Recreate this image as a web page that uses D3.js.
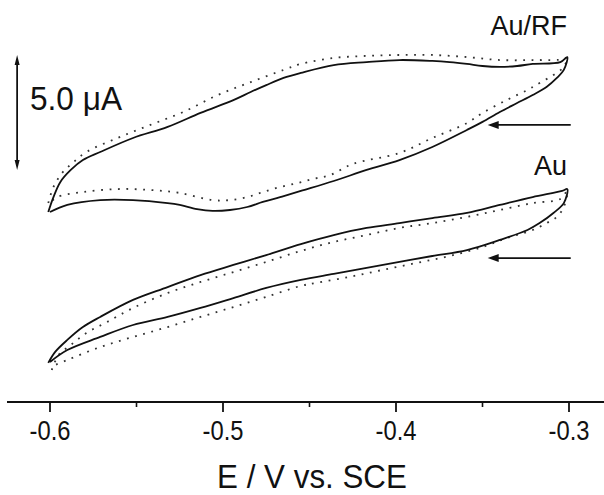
<!DOCTYPE html>
<html>
<head>
<meta charset="utf-8">
<script src="https://cdn.jsdelivr.net/npm/d3@7"></script>
<style>
  body { margin: 0; background: #fff; }
  svg { display: block; }
  text { font-family: "Liberation Sans", Arial, sans-serif; fill: #111; }
</style>
</head>
<body>
<svg id="cv"></svg>
<script>
// potential (V vs SCE) and current (uA) pairs
// each loop: left tip -> upper branch -> right tip -> lower branch -> left tip
var auRfSolid = [
  [-0.601, 0.78], [-0.598, 1.43], [-0.594, 2.09], [-0.588, 2.61], [-0.581, 3.04],
  [-0.571, 3.39], [-0.552, 4.00], [-0.532, 4.48], [-0.513, 5.09], [-0.494, 5.65],
  [-0.484, 6.00], [-0.475, 6.30], [-0.465, 6.61], [-0.455, 6.83], [-0.436, 7.17],
  [-0.417, 7.30], [-0.398, 7.39], [-0.379, 7.35], [-0.369, 7.30], [-0.359, 7.22],
  [-0.350, 7.13], [-0.340, 7.09], [-0.330, 7.13], [-0.321, 7.22], [-0.305, 7.30],
  [-0.301, 7.52],
  [-0.303, 6.96], [-0.307, 6.61], [-0.313, 6.22], [-0.321, 5.87], [-0.330, 5.52],
  [-0.340, 5.13], [-0.350, 4.70], [-0.359, 4.35], [-0.379, 3.61], [-0.398, 3.04],
  [-0.417, 2.61], [-0.436, 2.13], [-0.455, 1.70], [-0.467, 1.43], [-0.477, 1.22],
  [-0.486, 1.00], [-0.496, 0.87], [-0.506, 0.83], [-0.515, 0.91], [-0.525, 1.09],
  [-0.532, 1.17], [-0.552, 1.30], [-0.571, 1.30], [-0.590, 1.09], [-0.600, 0.78]
];
var auRfDotted = [
  [-0.601, 1.17], [-0.598, 1.87], [-0.593, 2.48], [-0.587, 2.91], [-0.579, 3.39],
  [-0.561, 4.00], [-0.542, 4.57], [-0.523, 5.13], [-0.503, 5.87], [-0.484, 6.43],
  [-0.465, 6.96], [-0.455, 7.22], [-0.436, 7.48], [-0.417, 7.57], [-0.398, 7.61],
  [-0.379, 7.61], [-0.359, 7.52], [-0.340, 7.39], [-0.321, 7.39], [-0.303, 7.43],
  [-0.301, 7.52],
  [-0.303, 7.09], [-0.309, 6.74], [-0.317, 6.39], [-0.324, 6.09], [-0.336, 5.65],
  [-0.350, 5.09], [-0.359, 4.65], [-0.379, 4.00], [-0.398, 3.35], [-0.425, 2.87],
  [-0.438, 2.39], [-0.448, 2.22], [-0.457, 2.04], [-0.467, 1.87], [-0.477, 1.65],
  [-0.486, 1.43], [-0.496, 1.30], [-0.506, 1.30], [-0.525, 1.61], [-0.542, 1.74],
  [-0.561, 1.78], [-0.581, 1.65], [-0.596, 1.43], [-0.600, 1.17]
];
var auSolid = [
  [-0.601, -5.78], [-0.597, -5.30], [-0.590, -4.78], [-0.581, -4.22], [-0.571, -3.78],
  [-0.552, -3.04], [-0.532, -2.48], [-0.513, -1.96], [-0.494, -1.52], [-0.475, -1.09],
  [-0.455, -0.61], [-0.436, -0.22], [-0.417, 0.09], [-0.398, 0.30], [-0.379, 0.52],
  [-0.359, 0.74], [-0.340, 1.09], [-0.321, 1.43], [-0.304, 1.70], [-0.301, 1.78],
  [-0.303, 1.17], [-0.309, 0.74], [-0.317, 0.30], [-0.324, 0.00], [-0.340, -0.43],
  [-0.359, -0.87], [-0.379, -1.13], [-0.398, -1.39], [-0.417, -1.65], [-0.436, -1.91],
  [-0.455, -2.17], [-0.475, -2.52], [-0.494, -2.96], [-0.513, -3.39], [-0.532, -3.78],
  [-0.552, -4.13], [-0.571, -4.65], [-0.590, -5.22], [-0.600, -5.74]
];
var auDotted = [
  [-0.599, -6.09], [-0.595, -5.43], [-0.588, -5.00], [-0.579, -4.48], [-0.567, -4.00],
  [-0.552, -3.39], [-0.532, -2.74], [-0.513, -2.26], [-0.494, -1.83], [-0.475, -1.39],
  [-0.455, -0.91], [-0.436, -0.52], [-0.417, -0.22], [-0.398, 0.09], [-0.379, 0.30],
  [-0.359, 0.57], [-0.340, 0.87], [-0.321, 1.17], [-0.305, 1.35], [-0.301, 1.70],
  [-0.303, 1.00], [-0.307, 0.57], [-0.313, 0.30], [-0.321, 0.00], [-0.336, -0.35],
  [-0.350, -0.74], [-0.369, -1.13], [-0.388, -1.43], [-0.408, -1.74], [-0.427, -2.04],
  [-0.446, -2.30], [-0.455, -2.43], [-0.475, -2.91], [-0.494, -3.35], [-0.513, -3.78],
  [-0.532, -4.22], [-0.552, -4.65], [-0.571, -5.09], [-0.590, -5.65], [-0.600, -5.96]
];

var majorTicks = [-0.6, -0.5, -0.4, -0.3];
var minorTicks = [-0.55, -0.45, -0.35];
var tickLabels = ["-0.6", "-0.5", "-0.4", "-0.3"];
var xTitle = "E / V vs. SCE";
var curveLabels = ["Au/RF", "Au"];
var scaleBarLabel = "5.0 \u03bcA";
var scaleBarSpan = 5.0;          // uA
// scan direction arrows: [E start, E end, current]
var scanArrows = [[-0.299, -0.347, 4.57], [-0.299, -0.347, -1.22]];

var width = 604, height = 495;
var svg = d3.select("svg#cv").attr("width", width).attr("height", height);

var x = d3.scaleLinear().domain([-0.6, -0.3]).range([50, 569]);
var y = d3.scaleLinear().domain([-7.5, 8]).range([402.5, 46]);

var line = d3.line()
    .x(function(d) { return x(d[0]); })
    .y(function(d) { return y(d[1]); })
    .curve(d3.curveCatmullRom.alpha(0.5));

// dotted traces first, solid on top
[auRfDotted, auDotted].forEach(function(s) {
  svg.append("path")
      .datum(s)
      .attr("fill", "none")
      .attr("stroke", "#333")
      .attr("stroke-width", 1.8)
      .attr("stroke-dasharray", "1.8 6.6")
      .attr("d", line);
});
[auRfSolid, auSolid].forEach(function(s) {
  svg.append("path")
      .datum(s)
      .attr("fill", "none")
      .attr("stroke", "#111")
      .attr("stroke-width", 1.8)
      .attr("stroke-linejoin", "round")
      .attr("d", line);
});

// x axis
var axisY = 402;
var xAxis = svg.append("g").attr("transform", "translate(0," + axisY + ")");
xAxis.append("line")
    .attr("x1", 7).attr("x2", width)
    .attr("stroke", "#111").attr("stroke-width", 1.8);
xAxis.selectAll(".major").data(majorTicks).enter().append("line")
    .attr("x1", function(d) { return x(d); }).attr("x2", function(d) { return x(d); })
    .attr("y1", 0).attr("y2", 10)
    .attr("stroke", "#111").attr("stroke-width", 1.8);
xAxis.selectAll(".minor").data(minorTicks).enter().append("line")
    .attr("x1", function(d) { return x(d); }).attr("x2", function(d) { return x(d); })
    .attr("y1", 0).attr("y2", 5)
    .attr("stroke", "#111").attr("stroke-width", 1.6);
xAxis.selectAll(".lab").data(majorTicks).enter().append("text")
    .attr("transform", function(d) { return "translate(" + x(d) + ",38) scale(0.88,1)"; })
    .attr("text-anchor", "middle")
    .style("font-size", "27px")
    .text(function(d, i) { return tickLabels[i]; });

svg.append("text")
    .attr("transform", "translate(312,488) scale(0.95,1)")
    .attr("text-anchor", "middle")
    .style("font-size", "33px")
    .text(xTitle);

// curve labels
svg.append("text")
    .attr("x", 567).attr("y", 35)
    .attr("text-anchor", "end")
    .style("font-size", "27px")
    .text(curveLabels[0]);
svg.append("text")
    .attr("x", 567).attr("y", 175)
    .attr("text-anchor", "end")
    .style("font-size", "27px")
    .text(curveLabels[1]);

// scale bar
var sbX = x(-0.619), sbTop = y(7.61), sbBot = y(7.61 - scaleBarSpan);
svg.append("line")
    .attr("x1", sbX).attr("x2", sbX)
    .attr("y1", sbTop + 4).attr("y2", sbBot - 4)
    .attr("stroke", "#111").attr("stroke-width", 1.8);
svg.append("path")
    .attr("d", "M" + sbX + "," + sbTop + "l-2.5,10h5z")
    .attr("fill", "#111");
svg.append("path")
    .attr("d", "M" + sbX + "," + sbBot + "l-2.5,-10h5z")
    .attr("fill", "#111");
svg.append("text")
    .attr("transform", "translate(30,110) scale(0.93,1)")
    .style("font-size", "34px")
    .text(scaleBarLabel);

// scan direction arrows
scanArrows.forEach(function(a) {
  var x0 = x(a[0]), x1 = x(a[1]), yy = y(a[2]);
  svg.append("line")
      .attr("x1", x0).attr("x2", x1 + 8)
      .attr("y1", yy).attr("y2", yy)
      .attr("stroke", "#111").attr("stroke-width", 1.8);
  svg.append("path")
      .attr("d", "M" + x1 + "," + yy + "l11,-4v8z")
      .attr("fill", "#111");
});
</script>
</body>
</html>
